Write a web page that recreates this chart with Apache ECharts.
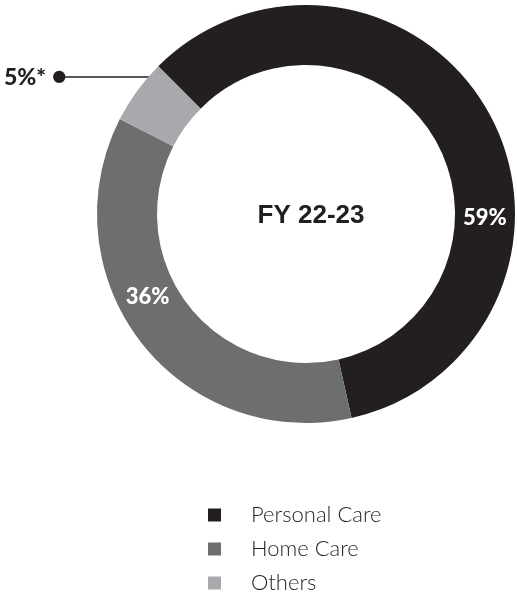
<!DOCTYPE html>
<html>
<head>
<meta charset="utf-8">
<script src="https://cdn.jsdelivr.net/npm/echarts@6/dist/echarts.min.js"></script>
<style>
  html, body { margin: 0; padding: 0; background: #fff; }
  #chart { width: 517px; height: 595px; }
</style>
</head>
<body>
<div id="chart"></div>
<script>
const categories = ['Personal Care', 'Home Care', 'Others']
const shares = [59, 36, 5]
const labelTexts = ['59%', '36%', '5%*']
const centerTitle = 'FY 22-23'

const colors = ['#231f20', '#6d6e70', '#a7a9ac']
const cx = 306
const cy = 214
const rIn = 149
const rOut = 209

// label placement in polar terms (deg, counter-clockwise from 3 o'clock)
const labelAngles = [-1.3, 207.7, null]
const polar = (deg, r) => [cx + r * Math.cos(deg * Math.PI / 180), cy - r * Math.sin(deg * Math.PI / 180)]

const chart = echarts.init(document.getElementById('chart'))

chart.setOption({
  animation: false,
  title: {
    text: centerTitle,
    left: cx,
    top: cy - 16,
    textAlign: 'center',
    textStyle: { fontFamily: 'Liberation Sans', fontWeight: 'bold', fontSize: 26, color: '#231f20' }
  },
  legend: {
    orient: 'vertical',
    left: 208,
    top: 503,
    height: 92,
    padding: 0,
    itemWidth: 13,
    itemHeight: 13,
    itemGap: 10,
    icon: 'rect',
    data: categories,
    textStyle: { fontFamily: 'Lato', fontWeight: 300, fontSize: 22, color: '#231f20', lineHeight: 24, padding: [0, 0, 0, 25] }
  },
  series: [{
    type: 'pie',
    center: [cx, cy],
    radius: [rIn, rOut],
    startAngle: 135,
    clockwise: true,
    silent: true,
    label: {
      show: true,
      position: 'inside',
      color: '#fff',
      fontFamily: 'Lato',
      fontWeight: 900,
      fontSize: 22
    },
    labelLine: { show: false },
    labelLayout: params => {
      const i = params.dataIndex
      if (labelAngles[i] !== null) {
        const p = polar(labelAngles[i], (rIn + rOut) / 2)
        return { x: p[0], y: p[1], align: 'center', verticalAlign: 'middle' }
      }
      const start = polar(137.6, 203)
      return {
        x: 4,
        y: start[1],
        align: 'left',
        verticalAlign: 'middle',
        labelLinePoints: [start, [62, start[1]], [62, start[1]]]
      }
    },
    data: categories.map((name, i) => {
      const item = {
        name,
        value: shares[i],
        itemStyle: { color: colors[i] },
        label: { formatter: labelTexts[i] }
      }
      if (i === 2) {
        item.label = {
          position: 'outside',
          formatter: '{v|' + labelTexts[i] + '}{d|●}',
          rich: {
            v: { fontFamily: 'Lato', fontWeight: 900, fontSize: 23, color: '#231f20', padding: [0, 6, 0, 0] },
            d: { fontFamily: 'DejaVu Sans', fontSize: 16, color: '#231f20' }
          }
        }
        item.labelLine = { show: true, lineStyle: { color: '#231f20', width: 1.5 } }
      }
      return item
    })
  }]
})
</script>
</body>
</html>
